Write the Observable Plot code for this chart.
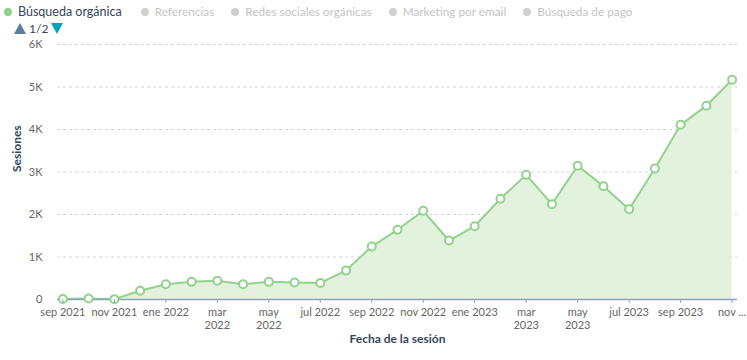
<!DOCTYPE html>
<html>
<head>
<meta charset="utf-8">
<script src="https://cdn.jsdelivr.net/npm/d3@7"></script>
<script src="https://cdn.jsdelivr.net/npm/@observablehq/plot@0.6"></script>
<style>
  body { margin: 0; background: #fff; font-family: Lato, "Noto Sans", sans-serif; }
  #legend { height: 36px; position: relative; font-size: 12px; }
  .row1 { position: absolute; left: 4px; top: 4px; display: flex; white-space: nowrap; }
  .item { display: flex; align-items: center; margin-right: 17px; color: #c4c4c4; font-size: 11.8px; }
  .item .dot { width: 8px; height: 8px; border-radius: 50%; background: #cfcfcf; margin-right: 6px; }
  .item.on { color: #33475b; font-size: 12.5px; margin-right: 19px; }
  .item.on .dot { background: #8fd18a; }
  .row2 { position: absolute; left: 14px; top: 21px; font-size: 12px; color: #33475b; display: flex; align-items: center; }
  .up { width: 0; height: 0; border-left: 6px solid transparent; border-right: 6px solid transparent; border-bottom: 11px solid #5c7d9e; margin-right: 3px; }
  .down { width: 0; height: 0; border-left: 6px solid transparent; border-right: 6px solid transparent; border-top: 11px solid #00a4bd; margin-left: 3px; }
</style>
</head>
<body>
<div id="legend"></div>
<div id="chart"></div>
<script>
const series = ["Búsqueda orgánica", "Referencias", "Redes sociales orgánicas", "Marketing por email", "Búsqueda de pago"];
const months = ["2021-09","2021-10","2021-11","2021-12","2022-01","2022-02","2022-03","2022-04","2022-05","2022-06","2022-07","2022-08","2022-09","2022-10","2022-11","2022-12","2023-01","2023-02","2023-03","2023-04","2023-05","2023-06","2023-07","2023-08","2023-09","2023-10","2023-11"];
const sessions = [12, 25, 8, 205, 360, 415, 440, 360, 415, 400, 390, 680, 1247, 1640, 2087, 1388, 1725, 2370, 2934, 2243, 3146, 2667, 2125, 3082, 4110, 4557, 5169];
const tickMonths = ["2021-09","2021-11","2022-01","2022-03","2022-05","2022-07","2022-09","2022-11","2023-01","2023-03","2023-05","2023-07","2023-09","2023-11"];
const tickLabels = ["sep 2021","nov 2021","ene 2022","mar\n2022","may\n2022","jul 2022","sep 2022","nov 2022","ene 2023","mar\n2023","may\n2023","jul 2023","sep 2023","nov ..."];
const yTicks = [0, 1000, 2000, 3000, 4000, 5000, 6000];

// legend
const legend = document.getElementById("legend");
const row1 = document.createElement("div");
row1.className = "row1";
series.forEach((s, i) => {
  const it = document.createElement("div");
  it.className = "item" + (i === 0 ? " on" : "");
  const dot = document.createElement("span");
  dot.className = "dot";
  it.appendChild(dot);
  it.appendChild(document.createTextNode(s));
  row1.appendChild(it);
});
legend.appendChild(row1);
const row2 = document.createElement("div");
row2.className = "row2";
row2.innerHTML = '<span class="up"></span><span>1/2</span><span class="down"></span>';
legend.appendChild(row2);

const data = months.map((m, i) => ({month: m, value: sessions[i]}));
const labelOf = new Map(tickMonths.map((m, i) => [m, tickLabels[i]]));

const chart = Plot.plot({
  width: 747,
  height: 324,
  marginLeft: 57,
  marginRight: 10,
  marginTop: 8,
  marginBottom: 61,
  style: {fontFamily: "Lato, 'Noto Sans', sans-serif", fontSize: "11px", background: "#fff"},
  x: {type: "point", domain: months, padding: 0.21, round: false, label: null},
  y: {domain: [0, 6000], label: null},
  marks: [
    Plot.gridY(yTicks.filter(d => d > 0), {stroke: "#cbd6e2", strokeOpacity: 1, strokeDasharray: "3,3"}),
    Plot.areaY(data, {x: "month", y: "value", fill: "#e2f2dc"}),
    Plot.lineY(data, {x: "month", y: "value", stroke: "#92d28c", strokeWidth: 2}),
    Plot.ruleY([0], {stroke: "#8ba2bb", strokeWidth: 1.5}),
    Plot.dot(data, {x: "month", y: "value", r: 4, fill: "#fff", stroke: "#92d28c", strokeWidth: 2}),
    Plot.axisX(tickMonths, {tickSize: 4, tickPadding: 3, stroke: "#8ba2bb", fill: "#666", lineHeight: 1.2, tickFormat: d => labelOf.get(d), label: null}),
    Plot.axisY(yTicks, {tickSize: 0, tickPadding: 15, fill: "#666", tickFormat: d => d === 0 ? "0" : (d / 1000) + "K", label: null}),
    Plot.text(["Fecha de la sesión"], {frameAnchor: "bottom", dy: 43, fontWeight: "bold", fontSize: 12, fill: "#33475b"}),
    Plot.text(["Sesiones"], {frameAnchor: "left", dx: -40, rotate: -90, fontWeight: "bold", fontSize: 12, fill: "#33475b"})
  ]
});
document.getElementById("chart").appendChild(chart);
</script>
</body>
</html>
